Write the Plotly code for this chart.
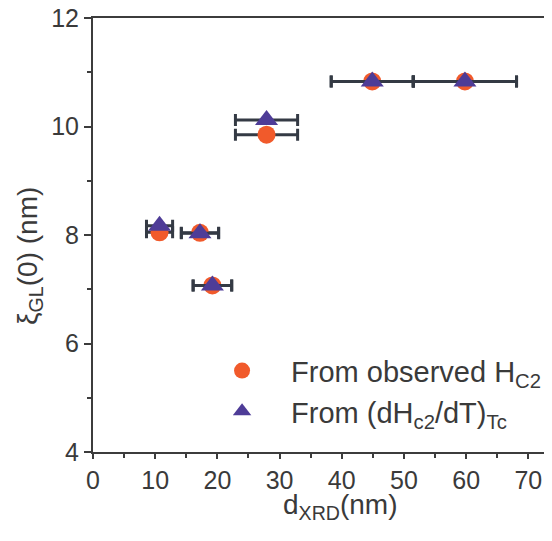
import plotly.graph_objects as go

# Data
d_xrd = [10.7, 17.2, 19.2, 27.9, 44.9, 59.8]
d_err = [2.1, 3.0, 3.1, 5.0, 6.6, 8.3]
xi_obs = [8.05, 8.04, 7.07, 9.85, 10.83, 10.83]
xi_slope = [8.17, 8.03, 7.07, 10.12, 10.83, 10.83]

x_ticks = [0, 10, 20, 30, 40, 50, 60, 70]
y_ticks = [4, 6, 8, 10, 12]

ORANGE = "#F15A2B"
PURPLE = "#4E3C97"
BAR = "#343A44"
AXIS = "#3C3C3C"
TEXT = "#3A3A3A"
FONT = "Liberation Sans, Arial, sans-serif"

fig = go.Figure()
fig.add_trace(go.Scatter(
    x=d_xrd, y=xi_obs, mode="markers",
    name="From observed H<sub>C2</sub>",
    marker=dict(symbol="circle", size=18, color=ORANGE),
    error_x=dict(type="data", array=d_err, visible=True, color=BAR, thickness=3, width=6),
))
fig.add_trace(go.Scatter(
    x=d_xrd, y=xi_slope, mode="markers",
    name="From (dH<sub>c2</sub>/dT)<sub>Tc</sub>",
    marker=dict(symbol="triangle-up", size=20, color=PURPLE),
    error_x=dict(type="data", array=d_err, visible=True, color=BAR, thickness=3, width=6),
))

fig.update_layout(
    width=552, height=541,
    margin=dict(l=85, r=8, t=10, b=97, autoexpand=False),
    paper_bgcolor="white", plot_bgcolor="white",
    font=dict(family=FONT, color=TEXT, size=24),
    showlegend=True,
    legend=dict(
        x=0.218, y=0.246, xanchor="left", yanchor="top",
        bgcolor="rgba(0,0,0,0)", font=dict(size=29, color=TEXT),
        itemwidth=88, tracegroupgap=0,
    ),
    xaxis=dict(
        range=[0, 73.8], tickvals=x_ticks, showgrid=False, zeroline=False,
        showline=True, linecolor=AXIS, linewidth=2, mirror=True,
        ticks="outside", ticklen=5, tickwidth=2, tickcolor=AXIS,
        minor=dict(dtick=5, ticks="outside", ticklen=4, tickwidth=2, tickcolor=AXIS),
        tickfont=dict(size=25), ticklabeloverflow="allow", automargin=False,
    ),
    yaxis=dict(
        range=[4, 12], tickvals=y_ticks, showgrid=False, zeroline=False,
        showline=True, linecolor=AXIS, linewidth=2,
        ticks="outside", ticklen=7, tickwidth=2, tickcolor=AXIS,
        minor=dict(dtick=1, ticks="outside", ticklen=4, tickwidth=2, tickcolor=AXIS),
        tickfont=dict(size=25), ticklabeloverflow="allow", automargin=False,
    ),
    annotations=[
        dict(text="d<sub>XRD</sub>(nm)", xref="paper", yref="paper",
             x=0.54, y=-0.126, xanchor="center", yanchor="middle",
             showarrow=False, font=dict(size=28, color=TEXT)),
        dict(text="ξ<sub>GL</sub>(0) (nm)", xref="paper", yref="paper",
             x=-0.137, y=0.452, xanchor="center", yanchor="middle", textangle=-90,
             showarrow=False, font=dict(size=28, color=TEXT)),
    ],
)

fig.write_html("out.html")
